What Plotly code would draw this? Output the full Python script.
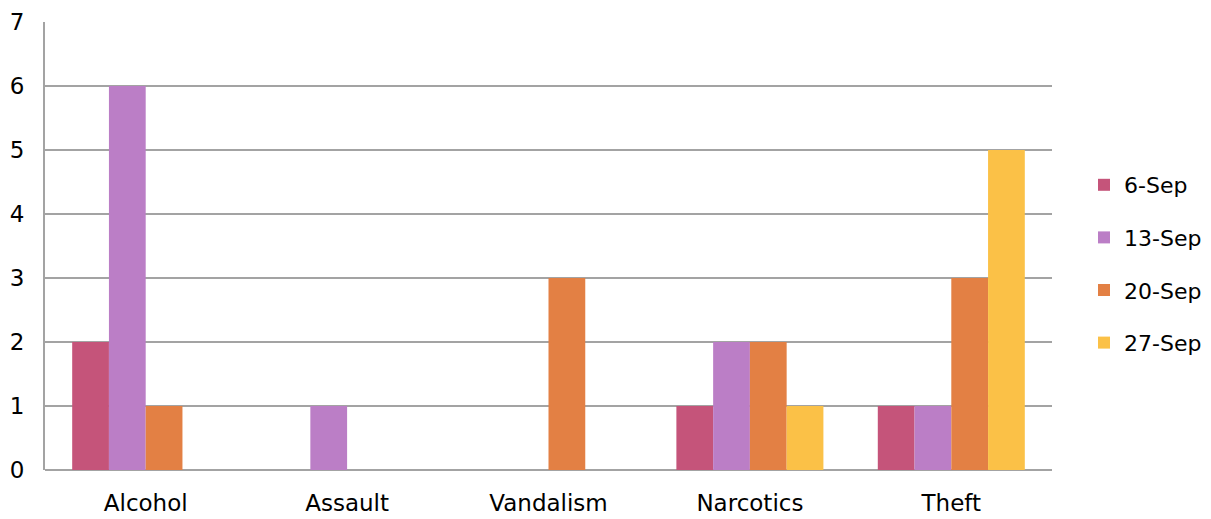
import plotly.graph_objects as go

categories = ["Alcohol", "Assault", "Vandalism", "Narcotics", "Theft"]
series_names = ["6-Sep", "13-Sep", "20-Sep", "27-Sep"]
sep06 = [2, 0, 0, 1, 1]
sep13 = [6, 1, 0, 2, 1]
sep20 = [1, 0, 3, 2, 3]
sep27 = [0, 0, 0, 1, 5]
y_ticks = [0, 1, 2, 3, 4, 5, 6, 7]

colors = ["#C5547A", "#BB7EC6", "#E38044", "#FBC147"]
series = [sep06, sep13, sep20, sep27]

FONT = "DejaVu Sans"
FS = 23

fig = go.Figure()
for name, vals, col in zip(series_names, series, colors):
    fig.add_trace(go.Bar(
        x=categories, y=vals, name=name, legendgroup=name,
        marker=dict(color=col, line=dict(width=0)),
    ))

fig.update_layout(
    width=1211, height=519,
    margin=dict(l=45, r=159, t=22, b=49, autoexpand=False),
    paper_bgcolor="white", plot_bgcolor="white",
    barmode="group", bargap=0.27, bargroupgap=0,
    font=dict(family=FONT, size=FS, color="#000000"),
    showlegend=True,
    legend=dict(xref="container", yref="container",
                x=1084 / 1211, xanchor="left", y=1 - 264 / 519, yanchor="middle",
                font=dict(family=FONT, size=22, color="#000000"),
                traceorder="grouped", tracegroupgap=21,
                bgcolor="rgba(0,0,0,0)"),
    xaxis=dict(showgrid=False, showline=False, zeroline=False, automargin=False,
               ticks="outside", ticklen=12, tickcolor="rgba(0,0,0,0)",
               tickfont=dict(family=FONT, size=FS, color="#000000")),
    yaxis=dict(range=[0, 7], tickvals=y_ticks, showgrid=True, automargin=False,
               gridcolor="#A3A3A3", gridwidth=2,
               zeroline=True, zerolinecolor="#A3A3A3", zerolinewidth=2,
               showline=True, linecolor="#A3A3A3", linewidth=2,
               ticks="outside", ticklen=14, tickcolor="rgba(0,0,0,0)",
               tickfont=dict(family=FONT, size=FS, color="#000000")),
)

fig.write_html("out.html",
               config={"displayModeBar": False},
               post_script="document.body.style.margin='0';document.body.style.overflow='hidden';")
